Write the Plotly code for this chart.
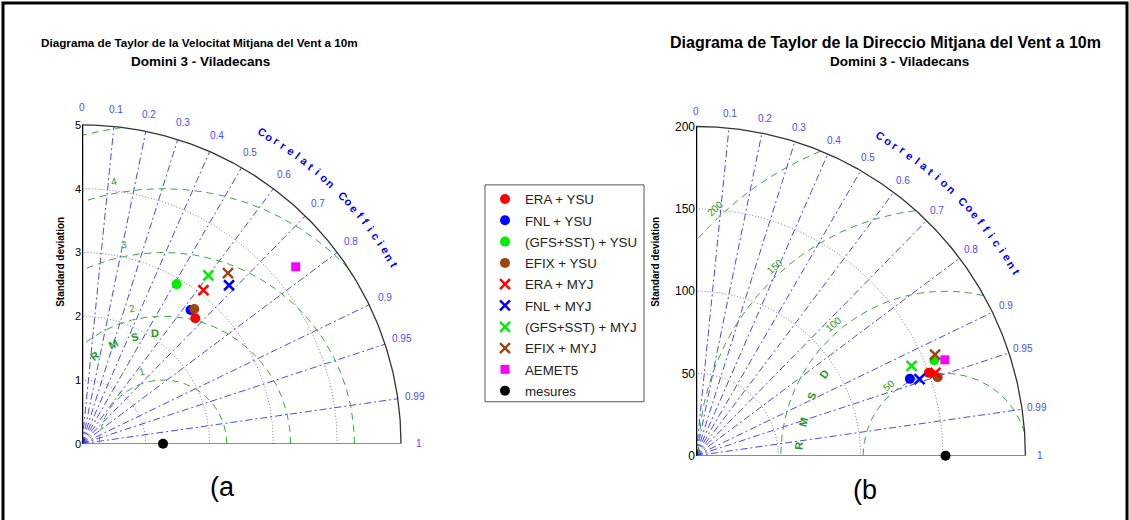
import numpy as np
import plotly.graph_objects as go

W, H = 1129, 520
KY = 1.013            # vertical correction applied to every vertical pixel target

# ---------------- data ----------------
models = ["ERA + YSU", "FNL + YSU", "(GFS+SST) + YSU", "EFIX + YSU",
          "ERA + MYJ", "FNL + MYJ", "(GFS+SST) + MYJ", "EFIX + MYJ", "AEMET5"]
marker_colors = ["#ff0000", "#0000ff", "#00ee00", "#9c4614",
                 "#ff0000", "#0000ff", "#00ee00", "#9c4614", "#ff00ff"]
marker_symbols = ["circle"] * 4 + ["x-thin"] * 4 + ["square"]

# (a) wind speed
a_std = [2.65, 2.70, 2.91, 2.75, 3.07, 3.39, 3.30, 3.52, 4.35]
a_corr = [0.67, 0.63, 0.51, 0.64, 0.62, 0.68, 0.60, 0.65, 0.77]
a_ref_std = 1.27
a_std_ticks = [0, 1, 2, 3, 4, 5]
a_rmsd_levels = [1, 2, 3, 4, 5]
a_rmsd_labels = [1, 2, 3, 4]

# (b) wind direction
b_std = [150.1, 138.0, 155.9, 154.3, 153.8, 143.5, 141.8, 157.6, 161.9]
b_corr = [0.942, 0.941, 0.928, 0.951, 0.945, 0.946, 0.923, 0.921, 0.933]
b_ref_std = 151.5
b_std_ticks = [0, 50, 100, 150, 200]
b_rmsd_levels = [50, 100, 150, 200]
b_rmsd_labels = [50, 100, 150, 200]

corr_ticks = [0, 0.1, 0.2, 0.3, 0.4, 0.5, 0.6, 0.7, 0.8, 0.9, 0.95, 0.99, 1]
corr_tick_text = ["0", "0.1", "0.2", "0.3", "0.4", "0.5", "0.6", "0.7",
                  "0.8", "0.9", "0.95", "0.99", "1"]

title_line1 = ["Diagrama de Taylor de la Velocitat Mitjana del Vent a 10m",
               "Diagrama de Taylor de la Direccio Mitjana del Vent a 10m"]
title_line2 = "Domini 3 - Viladecans"

FONT = "Arial, Liberation Sans, sans-serif"
BLUE_LINE = "rgba(40,40,255,0.85)"
BLUE_TXT = "#4b4bff"
GREEN = "#3aa83a"
GREEN_TXT = "#1f9a1f"

panels = [
    dict(std=a_std, corr=a_corr, ref=a_ref_std, ticks=a_std_ticks,
         levels=a_rmsd_levels, labels=a_rmsd_labels,
         ox=82, oy=444, sc=63.8, R=5, xa="x", ya="y", xl="xaxis", yl="yaxis",
         lab_r=1.055, cc_r=1.128, tickfs=11,
         lab_ang=[106, 103, 101, 100.5], lab_off=0.18, rmsd_r=1.74,
         rmsd_ang=[128, 116.5, 105, 94],
         title_cx=199, title_fs=11.7, sub_cx=200, letter="(a", letter_xy=(222, 487),
         ytitle_x=61, show=True),
    dict(std=b_std, corr=b_corr, ref=b_ref_std, ticks=b_std_ticks,
         levels=b_rmsd_levels, labels=b_rmsd_labels,
         ox=696, oy=456, sc=1.647, R=200, xa="x2", ya="y2", xl="xaxis2", yl="yaxis2",
         lab_r=1.045, cc_r=1.12, tickfs=12,
         lab_ang=[129, 130.5, 132, 133], lab_off=5.0, rmsd_r=89,
         rmsd_ang=[176, 166.5, 156, 146],
         title_cx=885, title_fs=16, sub_cx=900, letter="(b", letter_xy=(865, 490),
         ytitle_x=656, show=False),
]

fig = go.Figure()
annotations = []
layout_axes = {}


def py2paper(py):
    return (H - py * KY) / H


def to_paper(p, x, y):
    return (p["ox"] + x * p["sc"]) / W, py2paper(p["oy"] - y * p["sc"])


for p in panels:
    R = p["R"]
    rng = R * 1.06
    layout_axes[p["xl"]] = dict(domain=[p["ox"] / W, (p["ox"] + rng * p["sc"]) / W],
                                range=[0, rng], visible=False, anchor=p["ya"])
    layout_axes[p["yl"]] = dict(domain=[py2paper(p["oy"]), py2paper(p["oy"] - rng * p["sc"])],
                                range=[0, rng], anchor=p["xa"], tickvals=p["ticks"],
                                ticktext=[str(t) for t in p["ticks"]],
                                showgrid=False, zeroline=False, showline=False,
                                ticks="", tickfont=dict(size=p["tickfs"], color="black", family=FONT))

    common = dict(xaxis=p["xa"], yaxis=p["ya"], hoverinfo="skip", showlegend=False)

    th = np.linspace(0, np.pi / 2, 200)
    for s in p["ticks"][1:-1]:
        fig.add_trace(go.Scatter(x=s * np.cos(th), y=s * np.sin(th), mode="lines",
                                 line=dict(color="#808080", width=1, dash="1px,2px"), **common))
    for c in corr_ticks[1:-1]:
        a = np.arccos(c)
        fig.add_trace(go.Scatter(x=[0, R * np.cos(a)], y=[0, R * np.sin(a)], mode="lines",
                                 line=dict(color=BLUE_LINE, width=1, dash="7px,3px,2px,3px"), **common))
    phi = np.linspace(0, np.pi, 600)
    for lv in p["levels"]:
        xs = p["ref"] + lv * np.cos(phi)
        ys = lv * np.sin(phi)
        ok = (xs >= 0) & (xs ** 2 + ys ** 2 <= R ** 2)
        xs = np.where(ok, xs, np.nan)
        ys = np.where(ok, ys, np.nan)
        fig.add_trace(go.Scatter(x=xs, y=ys, mode="lines", connectgaps=False,
                                 line=dict(color=GREEN, width=1, dash="7px,5px"), **common))
    fig.add_trace(go.Scatter(x=R * np.cos(th), y=R * np.sin(th), mode="lines",
                             line=dict(color="#333333", width=1.3), **common))
    fig.add_trace(go.Scatter(x=[0, R], y=[0, 0], mode="lines",
                             line=dict(color="#666666", width=1.5), **common))
    fig.add_trace(go.Scatter(x=[0, 0], y=[0, R], mode="lines",
                             line=dict(color="black", width=2.5), **common))

    for i, name in enumerate(models):
        s, c = p["std"][i], p["corr"][i]
        sym = marker_symbols[i]
        mk = dict(color=marker_colors[i], symbol=sym, size=10)
        if sym == "x-thin":
            mk.update(size=10, line=dict(color=marker_colors[i], width=2.5))
        if sym == "square":
            mk.update(size=9)
        fig.add_trace(go.Scatter(x=[s * c], y=[s * np.sqrt(1 - c * c)], mode="markers",
                                 name=name, legendgroup=name, showlegend=p["show"],
                                 marker=mk, cliponaxis=False,
                                 xaxis=p["xa"], yaxis=p["ya"]))
    fig.add_trace(go.Scatter(x=[p["ref"]], y=[0], mode="markers", name="mesures",
                             legendgroup="mesures", showlegend=p["show"], cliponaxis=False,
                             marker=dict(color="black", size=10, symbol="circle"),
                             xaxis=p["xa"], yaxis=p["ya"]))

    for c, t in zip(corr_ticks, corr_tick_text):
        a = np.arccos(c)
        rr = R * p["lab_r"]
        px, py = to_paper(p, rr * np.cos(a), rr * np.sin(a))
        annotations.append(dict(x=px, y=py, xref="paper", yref="paper", text=t, showarrow=False,
                                xanchor="center", yanchor="middle",
                                font=dict(size=10, color=BLUE_TXT, family=FONT)))
    word = "Correlation Coefficient"
    angs = np.linspace(60, 29.8, len(word))
    for ch, ang in zip(word, angs):
        if ch == " ":
            continue
        rr = R * p["cc_r"]
        a = np.radians(ang)
        px, py = to_paper(p, rr * np.cos(a), rr * np.sin(a))
        annotations.append(dict(x=px, y=py, xref="paper", yref="paper", text="<b>%s</b>" % ch,
                                showarrow=False, xanchor="center", yanchor="middle",
                                textangle=90 - ang,
                                font=dict(size=11, color="#0000ff", family=FONT)))
    for lv, lang in zip(p["labels"], p["lab_ang"]):
        a = np.radians(lang)
        rr = lv + p["lab_off"]
        px, py = to_paper(p, p["ref"] + rr * np.cos(a), rr * np.sin(a))
        annotations.append(dict(x=px, y=py, xref="paper", yref="paper", text=str(lv),
                                showarrow=False, xanchor="center", yanchor="middle",
                                textangle=90 - lang,
                                font=dict(size=10, color=GREEN_TXT, family=FONT)))
    for ch, ang in zip("RMSD", p["rmsd_ang"]):
        a = np.radians(ang)
        px, py = to_paper(p, p["ref"] + p["rmsd_r"] * np.cos(a), p["rmsd_r"] * np.sin(a))
        annotations.append(dict(x=px, y=py, xref="paper", yref="paper", text="<b>%s</b>" % ch,
                                showarrow=False, xanchor="center", yanchor="middle",
                                textangle=90 - ang,
                                font=dict(size=11, color=GREEN_TXT, family=FONT)))
    annotations.append(dict(x=p["ytitle_x"] / W, y=py2paper(262), xref="paper", yref="paper",
                            text="<b>Standard deviation</b>", showarrow=False, textangle=-90,
                            xanchor="center", yanchor="middle",
                            font=dict(size=10, color="black", family=FONT)))
    k = panels.index(p)
    annotations.append(dict(x=p["title_cx"] / W, y=py2paper(43), xref="paper", yref="paper",
                            text="<b>%s</b>" % title_line1[k], showarrow=False,
                            xanchor="center", yanchor="middle",
                            font=dict(size=p["title_fs"], color="black", family=FONT)))
    annotations.append(dict(x=p["sub_cx"] / W, y=py2paper(62), xref="paper", yref="paper",
                            text="<b>%s</b>" % title_line2, showarrow=False,
                            xanchor="center", yanchor="middle",
                            font=dict(size=13.5, color="black", family=FONT)))
    lx, ly = p["letter_xy"]
    annotations.append(dict(x=lx / W, y=py2paper(ly), xref="paper", yref="paper",
                            text=p["letter"], showarrow=False, xanchor="center", yanchor="middle",
                            font=dict(size=27, color="black", family=FONT)))

# legend frame drawn as a shape so its padding matches the reference box
leg_x0, leg_x1, leg_y0, leg_y1 = 485, 644, 185, 402

fig.update_layout(
    width=W, height=H, autosize=False,
    margin=dict(l=0, r=0, t=0, b=0),
    paper_bgcolor="white", plot_bgcolor="white",
    annotations=annotations,
    legend=dict(x=leg_x0 / W, y=py2paper(leg_y0 - 1), xanchor="left", yanchor="top",
                bgcolor="rgba(255,255,255,0)", borderwidth=0,
                font=dict(size=13.3, color="#222222", family=FONT),
                traceorder="grouped", tracegroupgap=1),
    shapes=[dict(type="rect", xref="paper", yref="paper", x0=3 / W, x1=1127 / W,
                 y0=-0.1, y1=py2paper(3), line=dict(color="black", width=3)),
            dict(type="rect", xref="paper", yref="paper", x0=leg_x0 / W, x1=leg_x1 / W,
                 y0=py2paper(leg_y1), y1=py2paper(leg_y0), fillcolor="white",
                 line=dict(color="#555555", width=1), layer="above")],
    **layout_axes,
)

fig.write_html("out.html")
